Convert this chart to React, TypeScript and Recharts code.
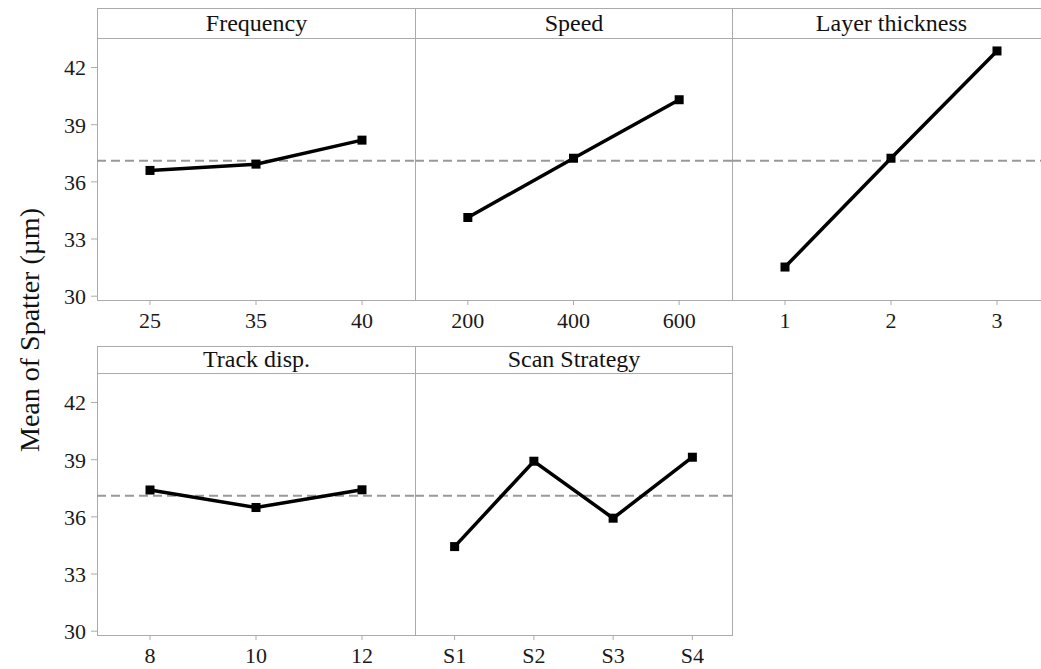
import { LineChart, Line, XAxis, YAxis, ReferenceLine } from 'recharts';

// main effects plot for spatter means
const frequencyLevels = ['25', '35', '40'];
const frequencyMeans = [36.6, 36.93, 38.19];

const speedLevels = ['200', '400', '600'];
const speedMeans = [34.13, 37.24, 40.31];

const layerLevels = ['1', '2', '3'];
const layerMeans = [31.53, 37.24, 42.87];

const trackLevels = ['8', '10', '12'];
const trackMeans = [37.41, 36.49, 37.42];

const scanLevels = ['S1', 'S2', 'S3', 'S4'];
const scanMeans = [34.44, 38.92, 35.93, 39.13];

const yTicks = [30, 33, 36, 39, 42];
const grandMean = 37.11;

const FONT = "'Liberation Serif', 'DejaVu Serif', serif";
const FRAME = '#ababab';
const PLOT_H = 262;
const AXIS_W = 97;

interface PanelProps {
  title: string;
  levels: string[];
  means: number[];
  left: number;
  width: number;
  stripTop: number;
  plotTop: number;
  showY?: boolean;
}

function SquareDot(props: any) {
  const { cx, cy, index } = props;
  if (cx == null || cy == null) return <g key={index} />;
  return <rect key={index} x={cx - 4.5} y={cy - 4.5} width={9} height={9} fill="#000" />;
}

function Panel({ title, levels, means, left, width, stripTop, plotTop, showY }: PanelProps) {
  const data = levels.map((level, i) => ({ level, mean: means[i] }));
  const pad = width / (2 * levels.length);
  const chartLeft = showY ? left - AXIS_W : left;
  const chartWidth = showY ? width + AXIS_W : width;
  const tickStyle = { fontFamily: FONT, fontSize: 22, fill: '#1a1a1a' };
  return (
    <>
      <div
        style={{
          position: 'absolute',
          left,
          top: stripTop,
          width: width + 1,
          height: plotTop - stripTop + PLOT_H + 1,
          boxSizing: 'border-box',
          border: `1px solid ${FRAME}`,
        }}
      />
      <div
        style={{
          position: 'absolute',
          left,
          top: stripTop,
          width: width + 1,
          height: plotTop - stripTop + 1,
          boxSizing: 'border-box',
          borderBottom: `1px solid ${FRAME}`,
          display: 'flex',
          alignItems: 'center',
          justifyContent: 'center',
          fontFamily: FONT,
          fontSize: 24,
          color: '#111',
        }}
      >
        {title}
      </div>
      <div style={{ position: 'absolute', left: chartLeft, top: plotTop }}>
        <LineChart width={chartWidth} height={PLOT_H + 40} data={data} margin={{ top: 0, right: 0, bottom: 0, left: 0 }}>
          <XAxis
            dataKey="level"
            type="category"
            interval={0}
            padding={{ left: pad, right: pad }}
            axisLine={false}
            tickLine={{ stroke: FRAME }}
            tickSize={5}
            tickMargin={7}
            height={40}
            tick={tickStyle}
          />
          <YAxis
            type="number"
            domain={[29.8, 43.55]}
            ticks={yTicks}
            hide={!showY}
            width={AXIS_W}
            axisLine={false}
            tickLine={{ stroke: FRAME }}
            tickSize={6}
            tickMargin={5}
            tick={tickStyle}
          />
          <ReferenceLine y={grandMean} stroke="#999" strokeWidth={2} strokeDasharray="9 5" />
          <Line
            dataKey="mean"
            stroke="#000"
            strokeWidth={3.5}
            dot={SquareDot}
            activeDot={false}
            isAnimationActive={false}
          />
        </LineChart>
      </div>
    </>
  );
}

export default function App() {
  return (
    <div
      style={{
        position: 'absolute',
        left: 0,
        top: 0,
        width: 1041,
        height: 669,
        overflow: 'hidden',
        background: '#fff',
      }}
    >
      <svg width={60} height={669} style={{ position: 'absolute', left: 0, top: 0 }}>
        <text
          transform="translate(29,330) rotate(-90)"
          textAnchor="middle"
          dominantBaseline="central"
          style={{ fontFamily: FONT, fontSize: 28 }}
          fill="#111"
        >
          Mean of Spatter (µm)
        </text>
      </svg>
      <Panel title="Frequency" levels={frequencyLevels} means={frequencyMeans} left={97} width={318} stripTop={8} plotTop={38} showY />
      <Panel title="Speed" levels={speedLevels} means={speedMeans} left={415} width={317} stripTop={8} plotTop={38} />
      <Panel title="Layer thickness" levels={layerLevels} means={layerMeans} left={732} width={318} stripTop={8} plotTop={38} />
      <Panel title="Track disp." levels={trackLevels} means={trackMeans} left={97} width={318} stripTop={346} plotTop={373} showY />
      <Panel title="Scan Strategy" levels={scanLevels} means={scanMeans} left={415} width={317} stripTop={346} plotTop={373} />
    </div>
  );
}
